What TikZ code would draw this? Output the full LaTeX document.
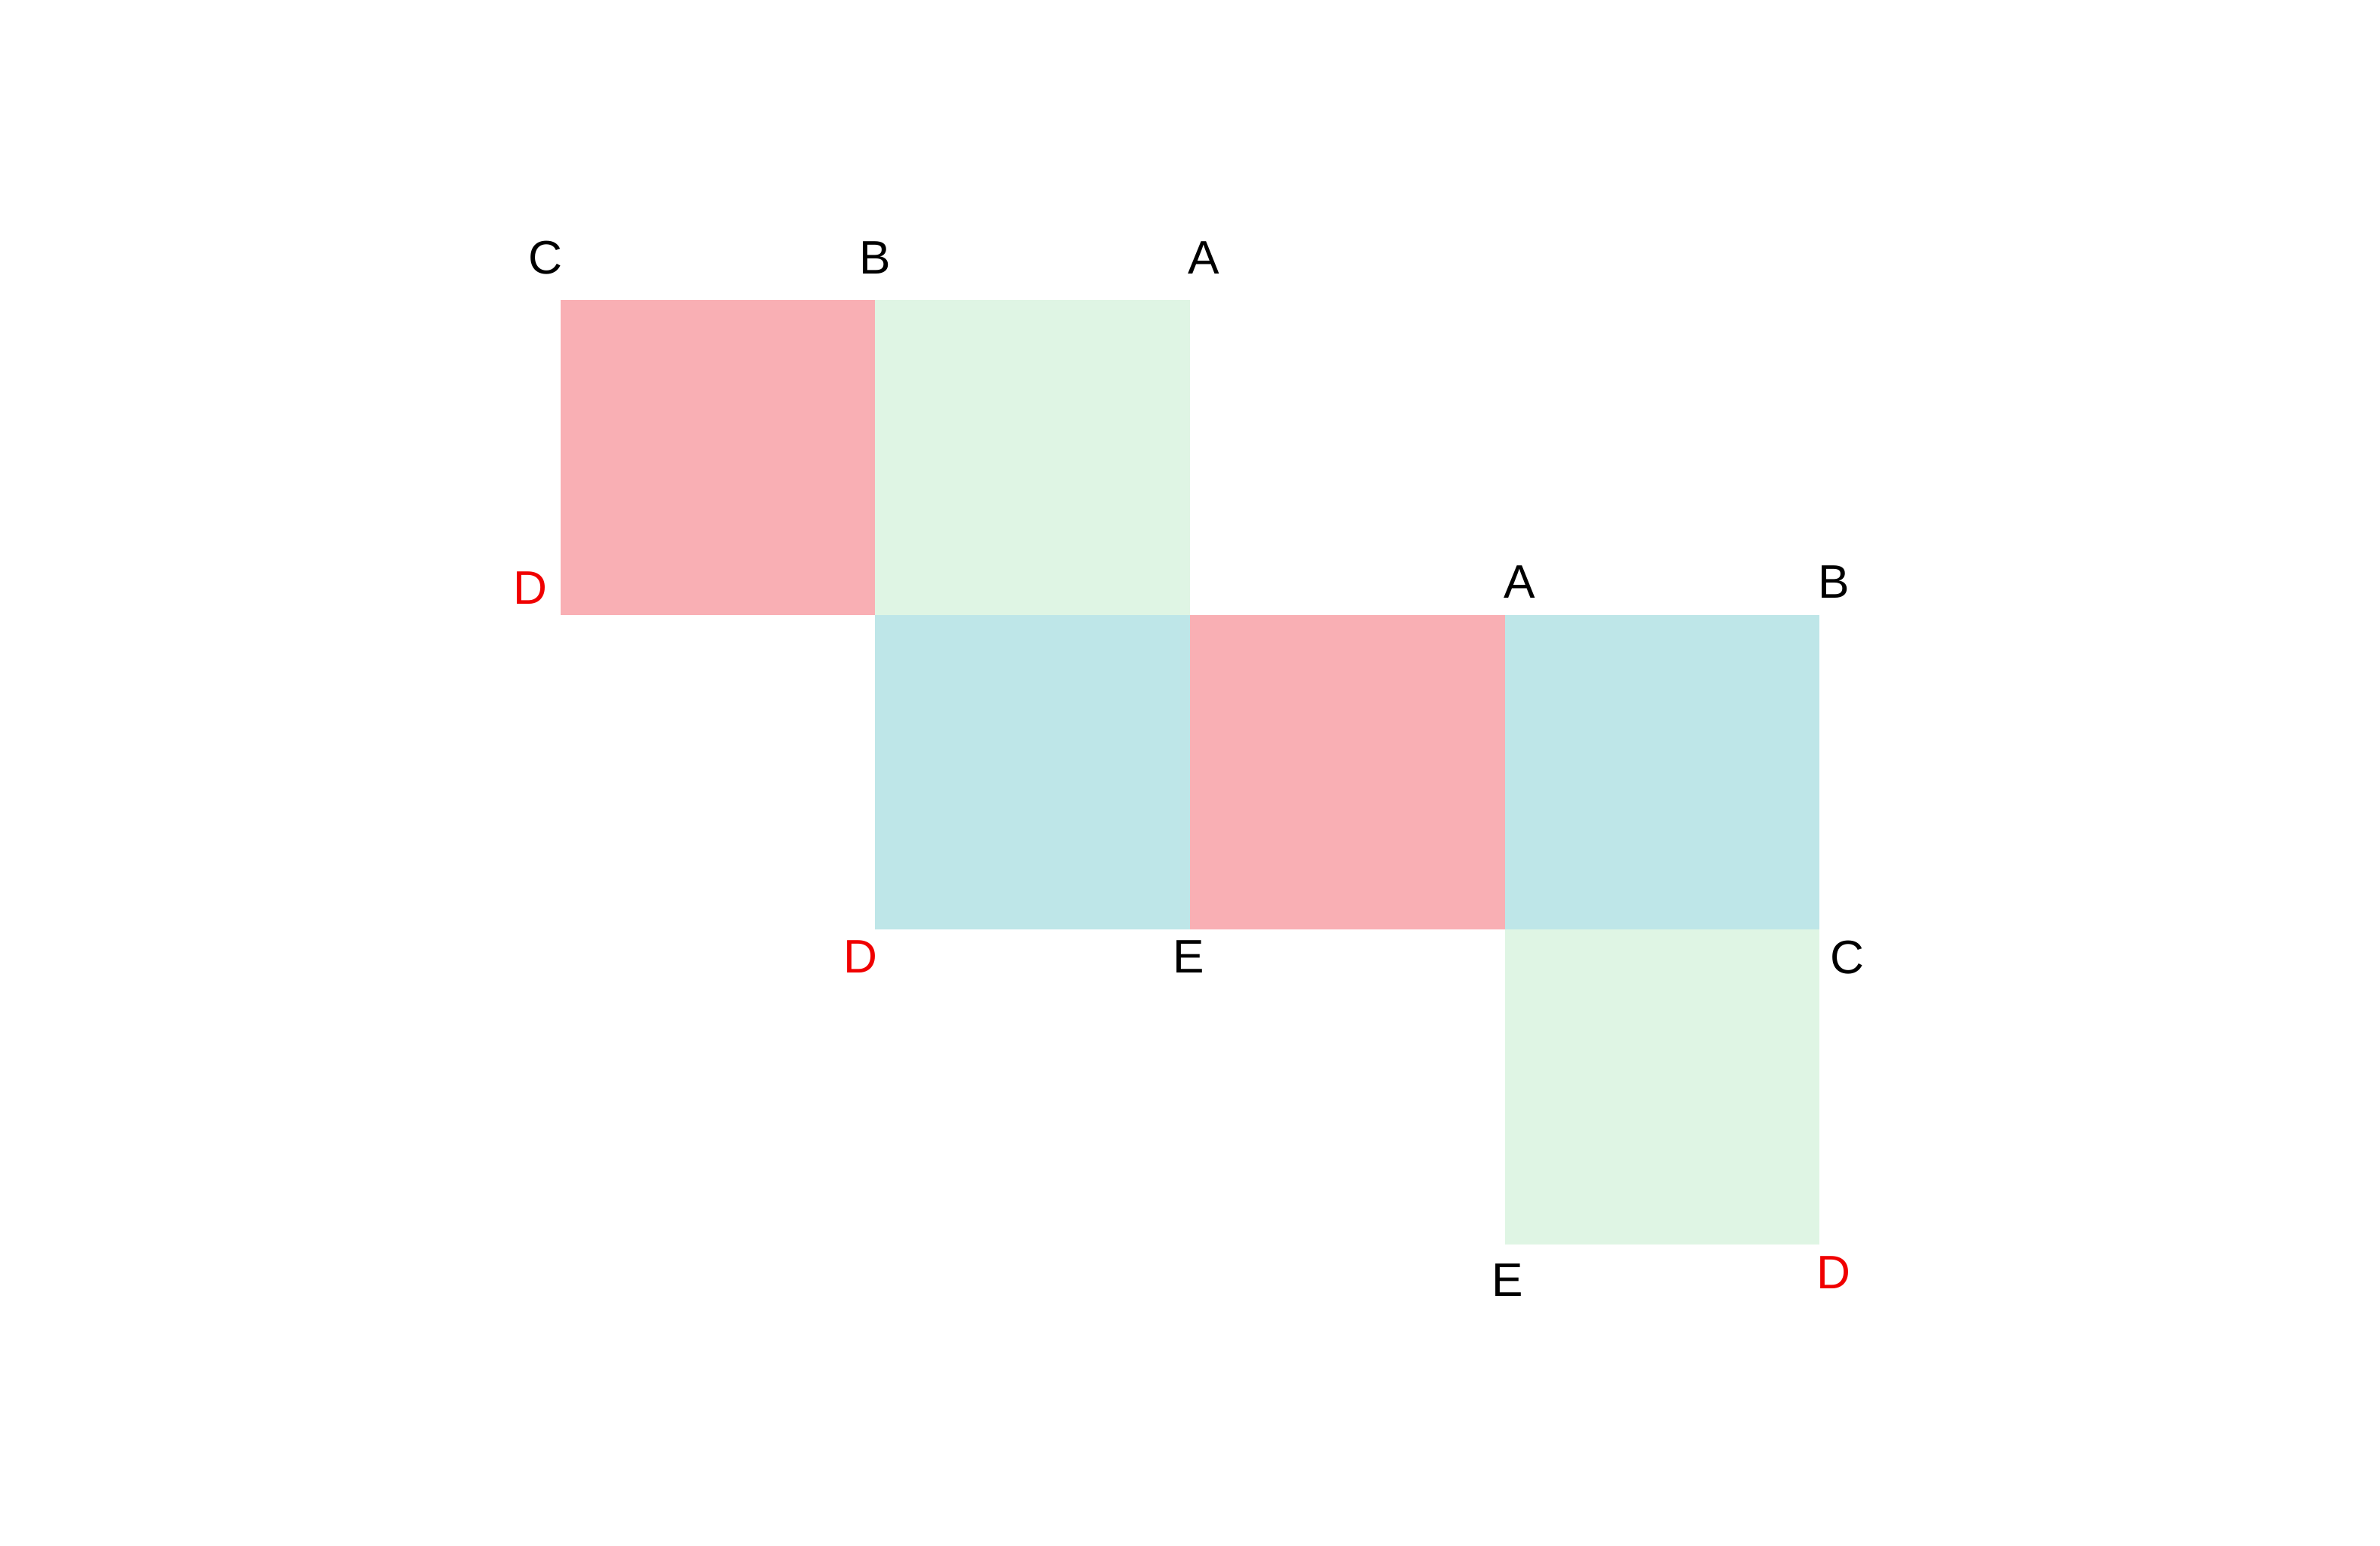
\documentclass[tikz,border=0pt]{standalone}
\usepackage{fontspec}
\setmainfont{Liberation Sans}
\usepackage{xcolor}
\usepackage{tikz}
\definecolor{facepink}{HTML}{F9AFB4}
\definecolor{facegreen}{HTML}{DFF5E4}
\definecolor{faceblue}{HTML}{BEE6E8}
\definecolor{markred}{HTML}{F00000}
\tikzset{
    vtx/.style={inner sep=0pt, font=\fontsize{17.7}{20}\selectfont},
    vtxred/.style={vtx, text=markred}
}

\begin{document}
\begin{tikzpicture}[x=4.165cm, y=4.165cm]
            \useasboundingbox (-1.7815,-0.958) rectangle (5.7815,3.954);

            %faces of the net
            \fill[facepink]  (0,2) rectangle (1,3);
            \fill[facegreen] (1,2) rectangle (2,3);
            \fill[faceblue]  (1,1) rectangle (2,2);
            \fill[facepink]  (2,1) rectangle (3,2);
            \fill[faceblue]  (3,1) rectangle (4,2);
            \fill[facegreen] (3,0) rectangle (4,1);

            %vertex labels
            \node[vtx]    (c1) at ([xshift=-0.20cm, yshift=0.56cm]0,3) {C};
            \node[vtx]    (b1) at ([xshift=0.00cm, yshift=0.56cm]1,3) {B};
            \node[vtx]    (a1) at ([xshift=0.18cm, yshift=0.56cm]2,3) {A};
            \node[vtxred] (d1) at ([xshift=-0.40cm, yshift=0.36cm]0,2) {D};
            \node[vtx]    (a2) at ([xshift=0.20cm, yshift=0.44cm]3,2) {A};
            \node[vtx]    (b2) at ([xshift=0.19cm, yshift=0.44cm]4,2) {B};
            \node[vtxred] (d2) at ([xshift=-0.20cm, yshift=-0.36cm]1,1) {D};
            \node[vtx]    (e1) at ([xshift=-0.02cm, yshift=-0.36cm]2,1) {E};
            \node[vtx]    (c2) at ([xshift=0.37cm, yshift=-0.37cm]4,1) {C};
            \node[vtx]    (e2) at ([xshift=0.04cm, yshift=-0.47cm]3,0) {E};
            \node[vtxred] (d3) at ([xshift=0.19cm, yshift=-0.37cm]4,0) {D};
\end{tikzpicture}
\end{document}
